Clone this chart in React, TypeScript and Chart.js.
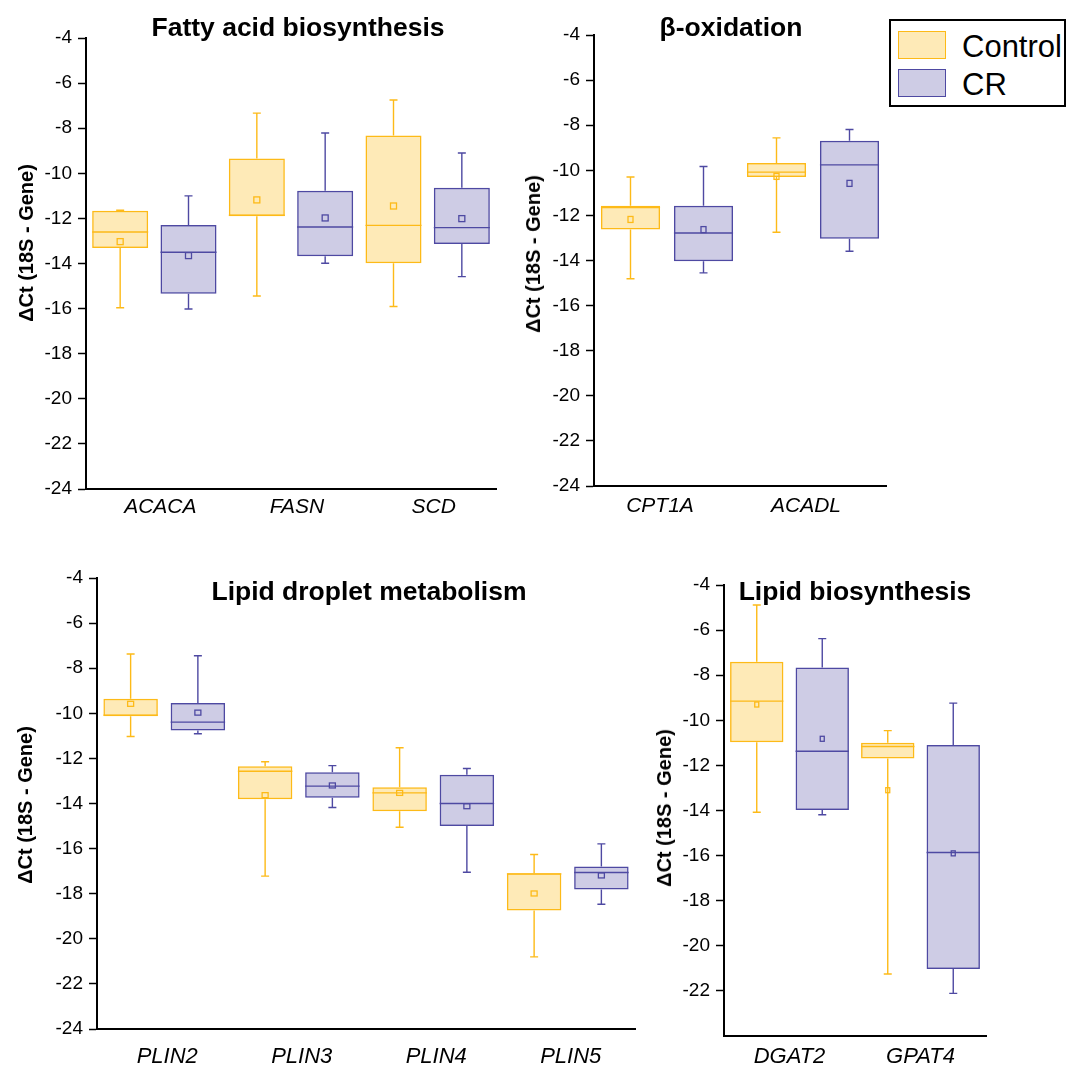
import React, { useEffect, useRef } from "react";
import { Chart, registerables } from "chart.js";

Chart.register(...registerables);

// Each box: [min, q1, median, q3, max, mean]
type Box = [number, number, number, number, number, number];

const SERIES_NAMES = ["Control", "CR"];
const Y_TITLE = "ΔCt (18S - Gene)";
const Y_TICKS = [-24, -22, -20, -18, -16, -14, -12, -10, -8, -6, -4];

// Panel 1: Fatty acid biosynthesis
const FATTY_TITLE = "Fatty acid biosynthesis";
const FATTY_GENES = ["ACACA", "FASN", "SCD"];
const FATTY_CONTROL: Box[] = [
  [-15.96, -13.31, -12.6, -11.66, -11.64, -13.03],
  [-15.44, -11.91, -11.86, -9.34, -7.33, -11.18],
  [-15.91, -13.99, -12.31, -8.32, -6.75, -11.45],
];
const FATTY_CR: Box[] = [
  [-16.02, -15.34, -13.5, -12.29, -11.0, -13.65],
  [-13.99, -13.68, -12.38, -10.77, -8.21, -11.98],
  [-14.58, -13.14, -12.41, -10.64, -9.1, -12.01],
];

// Panel 2: beta-oxidation
const BETA_TITLE = "β-oxidation";
const BETA_GENES = ["CPT1A", "ACADL"];
const BETA_CONTROL: Box[] = [
  [-14.81, -12.63, -11.65, -11.57, -10.3, -12.18],
  [-12.75, -10.3, -10.08, -9.68, -8.56, -10.27],
];
const BETA_CR: Box[] = [
  [-14.55, -14.03, -12.78, -11.57, -9.83, -12.63],
  [-13.59, -13.03, -9.76, -8.69, -8.19, -10.58],
];

// Panel 3: Lipid droplet metabolism
const DROPLET_TITLE = "Lipid droplet metabolism";
const DROPLET_GENES = ["PLIN2", "PLIN3", "PLIN4", "PLIN5"];
const DROPLET_CONTROL: Box[] = [
  [-11.03, -10.13, -10.08, -9.36, -7.37, -9.58],
  [-17.22, -13.81, -12.57, -12.35, -12.15, -13.63],
  [-15.05, -14.34, -13.53, -13.28, -11.53, -13.53],
  [-20.8, -18.75, -17.12, -17.09, -16.26, -17.99],
];
const DROPLET_CR: Box[] = [
  [-10.91, -10.76, -10.39, -9.54, -7.45, -9.97],
  [-14.18, -13.74, -13.23, -12.61, -12.32, -13.2],
  [-17.05, -15.0, -14.0, -12.73, -12.45, -14.12],
  [-18.47, -17.81, -17.06, -16.79, -15.79, -17.19],
];

// Panel 4: Lipid biosynthesis
const LIPID_TITLE = "Lipid biosynthesis";
const LIPID_GENES = ["DGAT2", "GPAT4"];
const LIPID_CONTROL: Box[] = [
  [-14.08, -10.97, -9.15, -7.4, -4.89, -9.3],
  [-21.25, -11.69, -11.16, -11.0, -10.46, -13.1],
];
const LIPID_CR: Box[] = [
  [-14.19, -13.98, -11.37, -7.66, -6.38, -10.82],
  [-22.11, -21.03, -15.86, -11.09, -9.24, -15.9],
];

const FONT = "'Liberation Sans', Arial, Helvetica, sans-serif";
const CONTROL_STROKE = "rgb(253,186,24)";
const CONTROL_FILL = "rgba(253,186,24,0.31)";
const CR_STROKE = "rgb(78,73,162)";
const CR_FILL = "rgba(78,73,162,0.28)";

Chart.defaults.font.family = FONT;

interface PanelCfg {
  title: string;
  genes: string[];
  control: Box[];
  cr: Box[];
  canvas: { left: number; top: number; w: number; h: number };
  area: { left: number; top: number; right: number; bottom: number };
  titlePos: { x: number; y: number };
  yTitlePos: { x: number; y: number };
  xLabelPad: number;
  xLabelOffset: number;
  xLabelSize: number;
  hideBottomTick: boolean;
  barPct: number;
  marker: [number, number];
}

const PANELS: PanelCfg[] = [
  {
    title: FATTY_TITLE,
    genes: FATTY_GENES,
    control: FATTY_CONTROL,
    cr: FATTY_CR,
    canvas: { left: 0, top: 0, w: 512, h: 530 },
    area: { left: 86, top: 38, right: 496, bottom: 489 },
    titlePos: { x: 298, y: 27 },
    yTitlePos: { x: 26, y: 243 },
    xLabelPad: 6,
    xLabelOffset: 6,
    xLabelSize: 21,
    hideBottomTick: false,
    barPct: 0.82,
    marker: [6, 6],
  },
  {
    title: BETA_TITLE,
    genes: BETA_GENES,
    control: BETA_CONTROL,
    cr: BETA_CR,
    canvas: { left: 512, top: 0, w: 390, h: 530 },
    area: { left: 594, top: 35, right: 886, bottom: 486 },
    titlePos: { x: 731, y: 27 },
    yTitlePos: { x: 533, y: 254 },
    xLabelPad: 8,
    xLabelOffset: -7,
    xLabelSize: 21,
    hideBottomTick: false,
    barPct: 0.81,
    marker: [5, 6],
  },
  {
    title: DROPLET_TITLE,
    genes: DROPLET_GENES,
    control: DROPLET_CONTROL,
    cr: DROPLET_CR,
    canvas: { left: 0, top: 540, w: 650, h: 531 },
    area: { left: 97, top: 578, right: 635, bottom: 1029 },
    titlePos: { x: 369, y: 591 },
    yTitlePos: { x: 25, y: 805 },
    xLabelPad: 15,
    xLabelOffset: 3,
    xLabelSize: 22,
    hideBottomTick: false,
    barPct: 0.81,
    marker: [6, 5],
  },
  {
    title: LIPID_TITLE,
    genes: LIPID_GENES,
    control: LIPID_CONTROL,
    cr: LIPID_CR,
    canvas: { left: 650, top: 540, w: 350, h: 531 },
    area: { left: 724, top: 585, right: 986, bottom: 1036 },
    titlePos: { x: 855, y: 591 },
    yTitlePos: { x: 664, y: 808 },
    xLabelPad: 8,
    xLabelOffset: 0,
    xLabelSize: 22,
    hideBottomTick: true,
    barPct: 0.815,
    marker: [4, 5],
  },
];

const boxPlugin = {
  id: "boxExtras",
  afterDatasetsDraw(chart: any, _args: any, opts: any) {
    const ctx = chart.ctx;
    const yScale = chart.scales.y;
    const py = (v: number) => yScale.getPixelForValue(v);
    const cap = opts.cap || 8;
    const [mw, mh] = opts.marker || [5, 5];
    chart.data.datasets.forEach((ds: any, di: number) => {
      const meta = chart.getDatasetMeta(di);
      const stats: Box[] = ds.stats;
      meta.data.forEach((bar: any, i: number) => {
        const s = stats[i];
        if (!s) return;
        const x = bar.x;
        const w = bar.width;
        ctx.save();
        ctx.strokeStyle = ds.borderColor;
        ctx.lineWidth = 1.4;
        ctx.beginPath();
        ctx.moveTo(x, py(s[3]));
        ctx.lineTo(x, py(s[4]));
        ctx.moveTo(x - cap / 2, py(s[4]));
        ctx.lineTo(x + cap / 2, py(s[4]));
        ctx.moveTo(x, py(s[1]));
        ctx.lineTo(x, py(s[0]));
        ctx.moveTo(x - cap / 2, py(s[0]));
        ctx.lineTo(x + cap / 2, py(s[0]));
        ctx.stroke();
        ctx.beginPath();
        ctx.moveTo(x - w / 2, py(s[2]));
        ctx.lineTo(x + w / 2, py(s[2]));
        ctx.stroke();
        ctx.lineWidth = 1.3;
        ctx.strokeRect(x - mw / 2, py(s[5]) - mh / 2, mw, mh);
        ctx.restore();
      });
    });
  },
};

function Panel({ cfg }: { cfg: PanelCfg }) {
  const ref = useRef<HTMLCanvasElement>(null);
  useEffect(() => {
    const c = cfg.canvas;
    const a = cfg.area;
    const yWidth = a.left - c.left;
    const xHeight = c.top + c.h - a.bottom;
    const padTop = a.top - c.top;
    const padRight = c.left + c.w - a.right;
    const chart = new Chart(ref.current as HTMLCanvasElement, {
      type: "bar",
      data: {
        labels: cfg.genes,
        datasets: [
          {
            label: SERIES_NAMES[0],
            data: cfg.control.map((s) => [s[1], s[3]]),
            stats: cfg.control,
            backgroundColor: CONTROL_FILL,
            borderColor: CONTROL_STROKE,
            borderWidth: 1.5,
            borderSkipped: false,
            barPercentage: cfg.barPct,
            categoryPercentage: 1,
          } as any,
          {
            label: SERIES_NAMES[1],
            data: cfg.cr.map((s) => [s[1], s[3]]),
            stats: cfg.cr,
            backgroundColor: CR_FILL,
            borderColor: CR_STROKE,
            borderWidth: 1.5,
            borderSkipped: false,
            barPercentage: cfg.barPct,
            categoryPercentage: 1,
          } as any,
        ],
      },
      options: {
        responsive: false,
        animation: false,
        layout: { padding: { left: 0, top: padTop, right: padRight, bottom: 0 } },
        plugins: {
          legend: { display: false },
          tooltip: { enabled: false },
          title: { display: false },
          boxExtras: { cap: 8, marker: cfg.marker },
        } as any,
        scales: {
          x: {
            type: "category",
            offset: true,
            grid: { display: false, drawTicks: false, drawOnChartArea: false },
            border: { display: true, color: "#000", width: 2 },
            ticks: {
              color: "#000",
              padding: cfg.xLabelPad,
              labelOffset: cfg.xLabelOffset,
              maxRotation: 0,
              autoSkip: false,
              font: { size: cfg.xLabelSize, style: "italic", family: FONT },
            },
            afterFit: (scale: any) => {
              scale.height = xHeight;
            },
          },
          y: {
            type: "linear",
            min: -24,
            max: -4,
            grid: {
              display: true,
              drawOnChartArea: false,
              drawTicks: true,
              tickLength: 8,
              color: "#000",
              tickColor: "#000",
              tickWidth: 1.5,
            },
            border: { display: true, color: "#000", width: 2 },
            ticks: {
              color: "#000",
              padding: 6,
              font: { size: 19, family: FONT },
              callback: (v: any) => String(v),
            },
            afterBuildTicks: (scale: any) => {
              scale.ticks = Y_TICKS.filter((v) => !(cfg.hideBottomTick && v === -24)).map((v) => ({ value: v }));
            },
            title: { display: false },
            afterFit: (scale: any) => {
              scale.width = yWidth;
            },
          },
        },
      } as any,
      plugins: [boxPlugin as any],
    });
    return () => chart.destroy();
  }, [cfg]);
  return (
    <canvas
      ref={ref}
      width={cfg.canvas.w}
      height={cfg.canvas.h}
      style={{
        position: "absolute",
        left: cfg.canvas.left,
        top: cfg.canvas.top,
        width: cfg.canvas.w,
        height: cfg.canvas.h,
      }}
    />
  );
}

function Legend() {
  const items = [
    { name: SERIES_NAMES[0], fill: CONTROL_FILL, stroke: CONTROL_STROKE, top: 10 },
    { name: SERIES_NAMES[1], fill: CR_FILL, stroke: CR_STROKE, top: 48 },
  ];
  return (
    <div
      style={{
        position: "absolute",
        left: 889,
        top: 19,
        width: 177,
        height: 88,
        border: "2px solid #000",
        boxSizing: "border-box",
        background: "#fff",
      }}
    >
      {items.map((it) => (
        <React.Fragment key={it.name}>
          <div
            style={{
              position: "absolute",
              left: 7,
              top: it.top,
              width: 48,
              height: 28,
              background: it.fill,
              border: `1.5px solid ${it.stroke}`,
              boxSizing: "border-box",
            }}
          />
          <div
            style={{
              position: "absolute",
              left: 71,
              top: it.top + 15,
              transform: "translateY(-50%)",
              fontFamily: FONT,
              fontSize: 31,
              lineHeight: "31px",
              color: "#000",
              whiteSpace: "nowrap",
            }}
          >
            {it.name}
          </div>
        </React.Fragment>
      ))}
    </div>
  );
}

export default function App() {
  return (
    <div
      style={{
        position: "absolute",
        left: 0,
        top: 0,
        width: 1068,
        height: 1071,
        background: "#fff",
        overflow: "hidden",
        fontFamily: FONT,
      }}
    >
      {PANELS.map((p) => (
        <Panel key={p.title} cfg={p} />
      ))}
      {PANELS.map((p) => (
        <div
          key={p.title + "-t"}
          style={{
            position: "absolute",
            left: p.titlePos.x,
            top: p.titlePos.y,
            transform: "translate(-50%, -50%)",
            fontFamily: FONT,
            fontWeight: "bold",
            fontSize: 26.5,
            lineHeight: "27px",
            color: "#000",
            whiteSpace: "nowrap",
          }}
        >
          {p.title}
        </div>
      ))}
      {PANELS.map((p) => (
        <div
          key={p.title + "-y"}
          style={{
            position: "absolute",
            left: p.yTitlePos.x,
            top: p.yTitlePos.y,
            transform: "translate(-50%, -50%) rotate(-90deg)",
            fontFamily: FONT,
            fontWeight: "bold",
            fontSize: 20,
            lineHeight: "20px",
            color: "#000",
            whiteSpace: "nowrap",
          }}
        >
          {Y_TITLE}
        </div>
      ))}
      <Legend />
    </div>
  );
}
